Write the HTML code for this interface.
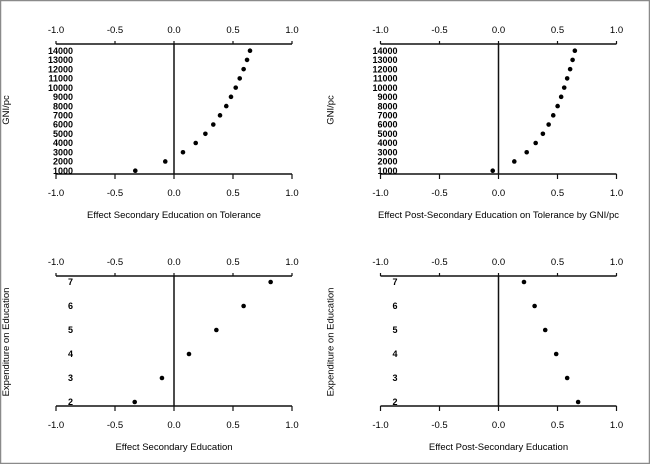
<!DOCTYPE html>
<html><head><meta charset="utf-8"><style>
html,body{margin:0;padding:0;background:#fff;}
svg{display:block;font-family:"Liberation Sans",Arial,sans-serif;}
</style></head><body>
<svg id="chart" width="650" height="464" viewBox="0 0 650 464">
<rect x="0.5" y="0.5" width="649" height="463" fill="#fff" stroke="#8a8a8a" stroke-width="1.5"/>
</svg>
<script>
const gniCategories = [1000,2000,3000,4000,5000,6000,7000,8000,9000,10000,11000,12000,13000,14000];
const secondaryGniValues = [-0.328,-0.074,0.076,0.184,0.266,0.333,0.39,0.443,0.483,0.523,0.557,0.59,0.619,0.644];
const postSecondaryGniValues = [-0.049,0.134,0.239,0.315,0.376,0.425,0.464,0.501,0.531,0.557,0.582,0.607,0.628,0.647];
const expCategories = [2,3,4,5,6,7];
const secondaryExpValues = [-0.333,-0.102,0.127,0.359,0.59,0.819];
const postSecondaryExpValues = [0.675,0.582,0.489,0.396,0.306,0.216];
const xTickLabels = ["-1.0","-0.5","0.0","0.5","1.0"];
const xTickValues = [-1,-0.5,0,0.5,1];

const NS = "http://www.w3.org/2000/svg";
const svg = document.getElementById("chart");
function mk(tag, attrs, parent){const e=document.createElementNS(NS,tag);for(const k in attrs)e.setAttribute(k,attrs[k]);(parent||svg).appendChild(e);return e;}

const panels = [
 {name:"secondary-gni", x0:56, y0:0, cats:gniCategories, vals:secondaryGniValues, ylab:"GNI/pc", xlab:"Effect Secondary Education on Tolerance", topCat:50.7, botCat:170.7},
 {name:"post-secondary-gni", x0:380.5, y0:0, cats:gniCategories, vals:postSecondaryGniValues, ylab:"GNI/pc", xlab:"Effect Post-Secondary Education on Tolerance by GNI/pc", topCat:50.7, botCat:170.7},
 {name:"secondary-expenditure", x0:56, y0:232, cats:expCategories, vals:secondaryExpValues, ylab:"Expenditure on Education", xlab:"Effect Secondary Education", topCat:50, botCat:170},
 {name:"post-secondary-expenditure", x0:380.5, y0:232, cats:expCategories, vals:postSecondaryExpValues, ylab:"Expenditure on Education", xlab:"Effect Post-Secondary Education", topCat:50, botCat:170}
];

panels.forEach(p=>{
  const g = mk("g",{});
  
  
  const W = 236;
  const xs = v => p.x0 + (v+1)/2*W;
  const yTop = p.y0+44, yBot = p.y0+174;
  const n = p.cats.length;
  const cmin = p.cats[0], cmax = p.cats[n-1];
  const ys = c => p.y0 + p.botCat - (c-cmin)/(cmax-cmin)*(p.botCat-p.topCat);
  const axT = mk("line",{x1:xs(-1),x2:xs(1),y1:yTop,y2:yTop,stroke:"#111","stroke-width":1.5},g);
  
  
  const axB = mk("line",{x1:xs(-1),x2:xs(1),y1:yBot,y2:yBot,stroke:"#111","stroke-width":1.5},g);
  
  
  const zl = mk("line",{x1:xs(0),x2:xs(0),y1:yTop,y2:yBot,stroke:"#111","stroke-width":1.5},g);
  
  
  xTickValues.forEach((v,i)=>{
    mk("line",{x1:xs(v),x2:xs(v),y1:yTop-3,y2:yTop,stroke:"#111","stroke-width":1.2},g);
    mk("line",{x1:xs(v),x2:xs(v),y1:yBot,y2:yBot+5,stroke:"#111","stroke-width":1.2},g);
    const t1 = mk("text",{x:xs(v),y:p.y0+33,"text-anchor":"middle","font-size":9.5,fill:"#000"},g);
    t1.textContent = xTickLabels[i];
    
    
    const t2 = mk("text",{x:xs(v),y:p.y0+196,"text-anchor":"middle","font-size":9.5,fill:"#000"},g);
    t2.textContent = xTickLabels[i];
    
    
  });
  p.cats.forEach((c,i)=>{
    const t = mk("text",{x:p.x0+17,y:ys(c)+3.2,"text-anchor":"end","font-size":9,fill:"#000","font-weight":"bold"},g);
    t.textContent = String(c);
    
    
    const d = mk("circle",{cx:xs(p.vals[i]),cy:ys(c),r:2.3,fill:"#000"},g);
    
    
  });
  const yl = mk("text",{x:0,y:0,"text-anchor":"middle","font-size":9.5,fill:"#000",transform:`translate(${p.x0-47},${p.y0+110}) rotate(-90)`},g);
  yl.textContent = p.ylab;
  
  
  const xl = mk("text",{x:xs(0),y:p.y0+218,"text-anchor":"middle","font-size":9.5,fill:"#000"},g);
  xl.textContent = p.xlab;
  
  
});
</script>
</body></html>
